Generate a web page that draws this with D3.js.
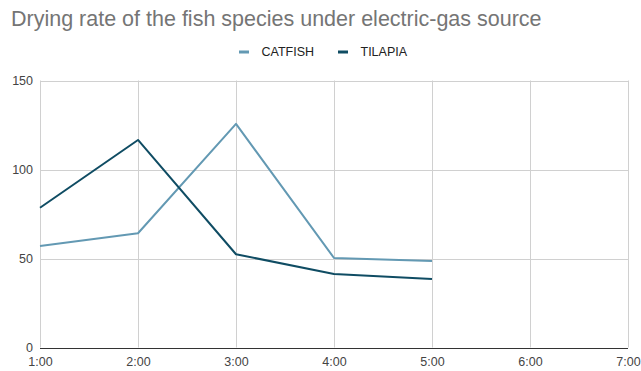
<!DOCTYPE html>
<html><head><meta charset="utf-8">
<script src="https://cdn.jsdelivr.net/npm/d3@7"></script>
<style>body{margin:0;background:#fff}svg{display:block;font-family:"Liberation Sans",Arial,sans-serif}</style>
</head><body><svg id="c" width="641" height="371"></svg>
<script>
const categories = ["1:00","2:00","3:00","4:00","5:00","6:00","7:00"];
const catfish = [57, 64.2, 125.6, 50.3, 48.6];
const tilapia = [78.5, 116.6, 52.4, 41.3, 38.5];
const yTicks = [0, 50, 100, 150];
const seriesNames = ["CATFISH", "TILAPIA"];
const colors = ["#6399b3", "#0f4c63"];

const svg = d3.select("#c");
const m = {l:40, r:13, t:80.5, b:23.5};
const W = 641, H = 371;
const x = d3.scalePoint().domain(categories).range([m.l, W - m.r]);
const y = d3.scaleLinear().domain([0,150]).range([H - m.b, m.t]);

svg.append("text").attr("x",11).attr("y",26).attr("fill","#757575")
  .attr("font-size",21.5).text("Drying rate of the fish species under electric-gas source");

// grid
const g = svg.append("g");
g.selectAll(".hg").data(yTicks).join("line")
  .attr("x1", m.l).attr("x2", W - m.r)
  .attr("y1", d => Math.round(y(d))+0.5).attr("y2", d => Math.round(y(d))+0.5)
  .attr("stroke", "#d0d0d0").attr("stroke-width",1);
g.selectAll(".vg").data(categories).join("line")
  .attr("x1", d => Math.round(x(d))+0.5).attr("x2", d => Math.round(x(d))+0.5)
  .attr("y1", m.t).attr("y2", H - m.b)
  .attr("stroke", "#d0d0d0").attr("stroke-width",1);
g.append("line").attr("x1", m.l).attr("x2", W - m.r)
  .attr("y1", Math.round(y(0))+0.5).attr("y2", Math.round(y(0))+0.5)
  .attr("stroke","#333").attr("stroke-width",1);

// axes labels
const yAxis = d3.axisLeft(y).tickValues(yTicks).tickSize(0).tickPadding(7);
const ya = svg.append("g").attr("transform",`translate(${m.l},0)`).call(yAxis);
ya.select(".domain").remove();
ya.selectAll("text").attr("font-size",12.5).attr("fill","#444").attr("font-family","Liberation Sans, Arial, sans-serif").attr("dy","0.3em");
const xAxis = d3.axisBottom(x).tickSize(0).tickPadding(10);
const xa = svg.append("g").attr("transform",`translate(0,${H - m.b})`).call(xAxis);
xa.select(".domain").remove();
xa.selectAll("text").attr("font-size",12.5).attr("fill","#444").attr("font-family","Liberation Sans, Arial, sans-serif");

// lines
const line = d3.line().x((d,i)=>x(categories[i])).y(d=>y(d));
[catfish, tilapia].forEach((s,k)=>{
  svg.append("path").datum(s).attr("d", line).attr("fill","none")
    .attr("stroke", colors[k]).attr("stroke-width",2).attr("stroke-linejoin","round");
});

// legend
const lg = svg.append("g");
const lx = [239, 338];
seriesNames.forEach((n,k)=>{
  lg.append("rect").attr("x", lx[k]).attr("y", 50.5).attr("width", 10).attr("height", 3).attr("fill", colors[k]);
  lg.append("text").attr("x", lx[k]+22.5).attr("y", 56.3).attr("font-size", 12.5).attr("fill","#222").text(n);
});
</script></body></html>
